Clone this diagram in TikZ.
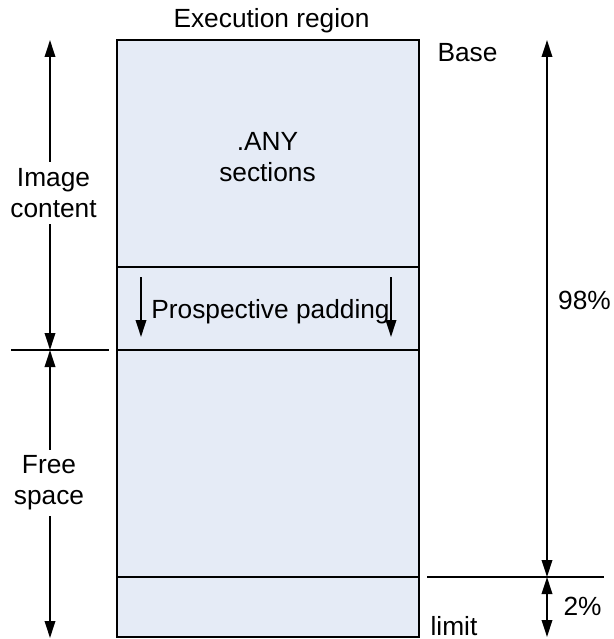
\documentclass[tikz,border=0pt]{standalone}
\usepackage{fontspec}
\setmainfont{Liberation Sans}
\usetikzlibrary{arrows.meta}
\definecolor{boxfill}{RGB}{229,235,246}
\begin{document}
\begin{tikzpicture}[x=1pt,y=-1pt,
  every node/.style={font=\fontsize{26.3}{31}\selectfont, inner sep=0pt, outer sep=0pt},
  region/.style={draw=black, line width=2pt, fill=boxfill, minimum width=302pt, anchor=north},
  tipx/.tip={Triangle[length=17pt,width=10.5pt]},
  dim/.style={line width=2pt, tipx-tipx},
  onedim/.style={line width=2pt, -tipx},
  rule/.style={line width=2pt},
  label/.style={fill=white, align=center, inner ysep=6pt, inner xsep=2pt},
  intext/.style={align=center},
]
\useasboundingbox (0,0) rectangle (613,639);
% stacked regions
\node[region, minimum height=227pt] (anysec) at (267.5,40) {};
\node[region, minimum height=83pt] (padbox) at (anysec.south) {};
\node[region, minimum height=227pt] (freebox) at (padbox.south) {};
\node[region, minimum height=60pt] (limitbox) at (freebox.south) {};
\node[intext] (anytext) at ([yshift=-4pt]anysec.center) {.ANY\\sections};
% padding arrows
\coordinate (pl1) at (141,277); \coordinate (pl2) at (141,337);
\coordinate (pr1) at (391,277); \coordinate (pr2) at (391,337);
\node[intext] (padtext) at ([yshift=-3pt,xshift=3pt]padbox.center) {Prospective padding};
\draw[onedim] (pl1) -- (pl2);
\draw[onedim] (pr1) -- (pr2);
% left dimension
\coordinate (lt) at (50,40); \coordinate (lm) at (50,350); \coordinate (lb) at (50,638);
\coordinate (ll1) at (11,350); \coordinate (ll2) at (109,350);
\draw[rule] (ll1) -- (ll2);
\draw[dim] (lm) -- (lt);
\draw[dim] (lm) -- (lb);
% right dimension
\coordinate (rt) at (547,40); \coordinate (rm) at (547,577); \coordinate (rb) at (547,637);
\coordinate (rl1) at (427,577); \coordinate (rl2) at (604,577);
\draw[rule] (rl1) -- (rl2);
\draw[dim] (rm) -- (rt);
\draw[dim] (rm) -- (rb);
% labels
\node[anchor=base] (title) at (271.5,28) {Execution region};
\node[anchor=base] (base) at (467.5,62) {Base};
\node[anchor=base] (limit) at (454,635) {limit};
\node[anchor=base] (p98) at (584.5,309) {98\%};
\node[anchor=base] (p2) at (582.5,615) {2\%};
\node[label] (image) at (53.5,193) {Image\\content};
\node[label] (free) at (49,483) {Free\\space};
\end{tikzpicture}
\end{document}
